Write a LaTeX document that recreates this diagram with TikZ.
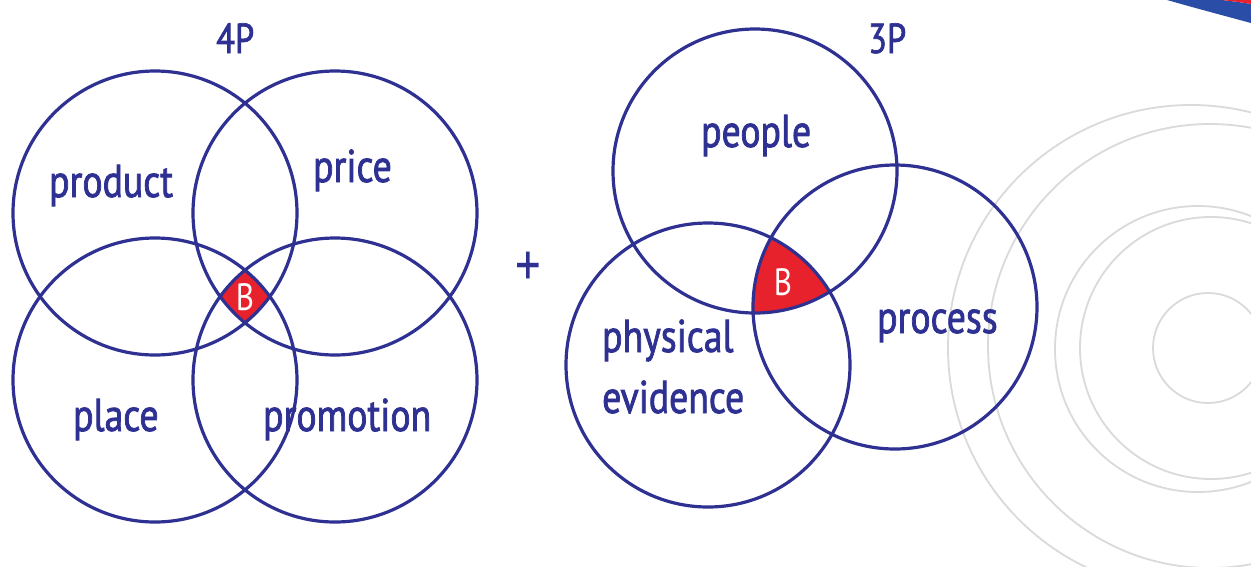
\documentclass[tikz,border=0pt]{standalone}
\usepackage{fontspec}
\setmainfont{PT Sans}[FakeStretch=0.82]
\newfontfamily\labelfont{PT Sans}[FakeStretch=0.82,FakeBold=1.6]
\definecolor{navy}{RGB}{46,49,146}
\definecolor{brandred}{RGB}{232,34,44}
\definecolor{swoosh}{RGB}{42,78,168}
\definecolor{ring}{RGB}{218,218,218}
\begin{document}
\begin{tikzpicture}[x=1pt,y=-1pt,
  venn/.style={draw=navy,line width=3.2pt},
  faint/.style={draw=ring,line width=1.8pt},
  word/.style={text=navy,inner sep=0pt,anchor=base west,font=\labelfont\fontsize{46}{50}\selectfont},
  title/.style={text=navy,inner sep=0pt,anchor=base west,font=\labelfont\fontsize{42}{46}\selectfont},
  core/.style={text=white,inner sep=0pt,font=\fontsize{38}{42}\selectfont}]
\useasboundingbox (0,0) rectangle (1251,566);
\fill[white] (0,0) rectangle (1251,566);

% background rings on the right
\draw[faint] (1191,348) circle[radius=243pt];
\draw[faint] (1210,346) circle[radius=222pt];
\draw[faint] (1198,349) circle[radius=143pt];
\draw[faint] (1211,348) circle[radius=131pt];
\draw[faint] (1208,348) circle[radius=55pt];

% corner swoosh
\fill[swoosh] (1167,0) .. controls (1195,8) and (1225,16) .. (1251,23) -- (1251,4) .. controls (1240,2) and (1230,1) .. (1222,0) -- cycle;
\fill[brandred] (1222,0) .. controls (1230,1) and (1240,2) .. (1251,4) -- (1251,0) -- cycle;

% 4P: common area of the four circles
\begin{scope}
  \clip (155,213) circle[radius=142pt];
  \clip (335,213) circle[radius=142pt];
  \clip (155,380) circle[radius=142pt];
  \fill[brandred] (335,380) circle[radius=142pt];
\end{scope}
\draw[venn] (155,213) circle[radius=142pt];
\draw[venn] (335,213) circle[radius=142pt];
\draw[venn] (155,380) circle[radius=142pt];
\draw[venn] (335,380) circle[radius=142pt];

% 3P: common area of the three circles
\begin{scope}
  \clip (755,171) circle[radius=142pt];
  \clip (895,307) circle[radius=142pt];
  \fill[brandred] (708,365) circle[radius=142pt];
\end{scope}
\draw[venn] (755,171) circle[radius=142pt];
\draw[venn] (895,307) circle[radius=142pt];
\draw[venn] (708,365) circle[radius=142pt];

% labels
\node[title] (t4) at (216,53) {4P};
\node[title] (t3) at (868,53) {3P};
\node[word] (product) at (49,197) {product};
\node[word] (price) at (313,182) {price};
\node[word] (place) at (73,431) {place};
\node[word] (promotion) at (263,431) {promotion};
\node[word] (people) at (701,147) {people};
\node[word] (process) at (877,333) {process};
\node[word] (physical) at (602,352) {physical};
\node[word] (evidence) at (602,413) {evidence};
\node[core] (b4) at (245,297) {B};
\node[core] (b3) at (783,282) {B};
\node[text=navy,inner sep=0pt,font=\fontsize{62}{64}\selectfont] (plus) at (528,269) {+};
\end{tikzpicture}
\end{document}
